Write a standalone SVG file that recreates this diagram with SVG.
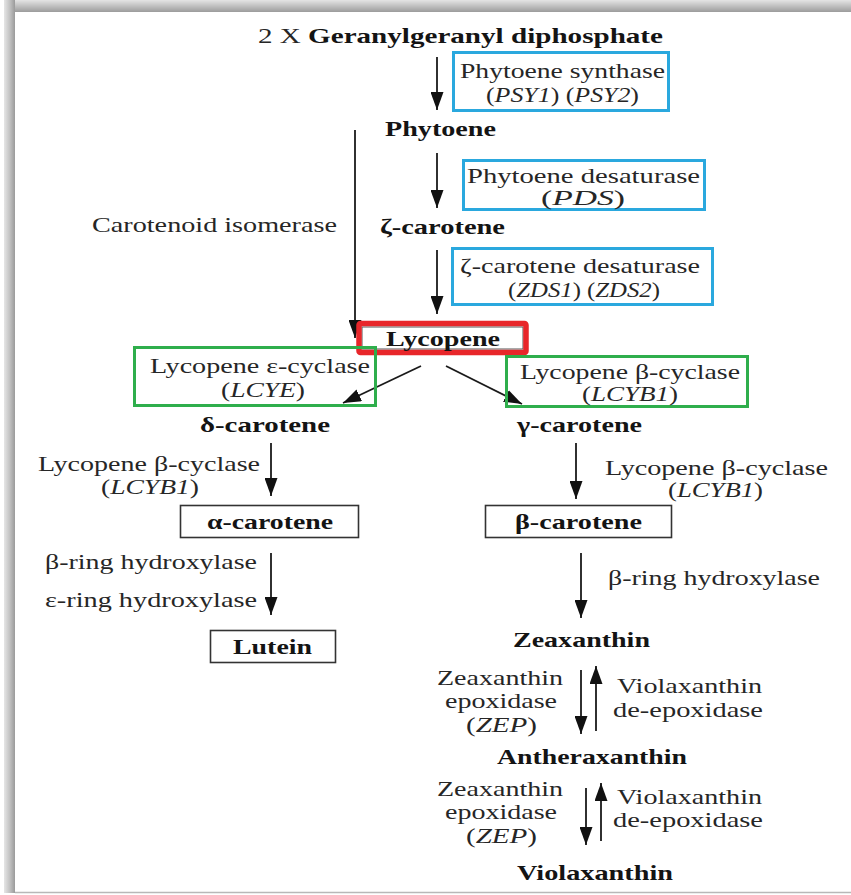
<svg xmlns="http://www.w3.org/2000/svg" width="851" height="895" viewBox="0 0 851 895">
  <defs>
    <linearGradient id="frameTop" x1="0" y1="0" x2="0" y2="1">
      <stop offset="0" stop-color="#e4e4e4"/>
      <stop offset="1" stop-color="#9c9c9c"/>
    </linearGradient>
    <linearGradient id="frameLeft" x1="0" y1="0" x2="1" y2="0">
      <stop offset="0" stop-color="#e6e6e6"/>
      <stop offset="0.5" stop-color="#c4c4c4"/>
      <stop offset="1" stop-color="#9a9a9a"/>
    </linearGradient>
    <marker id="ah" viewBox="0 0 18 13" refX="18" refY="6.5" markerWidth="18" markerHeight="13" markerUnits="userSpaceOnUse" orient="auto">
      <path d="M0,0 L18,6.5 L0,13 z" fill="#111"/>
    </marker>
  </defs>
  <style>
    text { font-family: "Liberation Serif", "Times New Roman", serif; font-size: 21px; fill: #262626; }
    .b { font-weight: bold; fill: #141414; }
    .i { font-style: italic; }
    .enz { stroke: #2aa8de; stroke-width: 3; fill: none; }
    .cyc { stroke: #2fae4c; stroke-width: 3; fill: none; }
    .prod { stroke: #333; stroke-width: 1.6; fill: #fff; }
    .arr { stroke: #1a1a1a; stroke-width: 1.8; fill: none; marker-end: url(#ah); }
  </style>

  <!-- page and frame -->
  <rect x="0" y="0" width="851" height="895" fill="#fff"/>
  <rect x="4" y="0" width="847" height="12" fill="url(#frameTop)"/>
  <rect x="4" y="0" width="11" height="893" fill="url(#frameLeft)"/>
  <line x1="15" y1="892.5" x2="851" y2="892.5" stroke="#b8b8b8" stroke-width="1.5"/>

  <!-- connectors -->
  <g id="connectors">
    <line class="arr" x1="437" y1="57" x2="437" y2="110"/>
    <line class="arr" x1="437" y1="153" x2="437" y2="208"/>
    <line class="arr" x1="437" y1="250" x2="437" y2="314"/>
    <line class="arr" x1="355" y1="130" x2="355" y2="338"/>
    <line class="arr" x1="421" y1="366" x2="343" y2="403"/>
    <line class="arr" x1="446" y1="366" x2="522" y2="404"/>
    <line class="arr" x1="271" y1="443" x2="271" y2="496"/>
    <line class="arr" x1="271" y1="553" x2="271" y2="615"/>
    <line class="arr" x1="576" y1="443" x2="576" y2="499"/>
    <line class="arr" x1="581" y1="553" x2="581" y2="618"/>
    <line class="arr" x1="581" y1="670" x2="581" y2="734"/>
    <line class="arr" x1="596" y1="731" x2="596" y2="666"/>
    <line class="arr" x1="586" y1="788" x2="586" y2="845"/>
    <line class="arr" x1="601" y1="841" x2="601" y2="783"/>
  </g>

  <!-- metabolites -->
  <g id="ggpp">
    <text x="258" y="43" textLength="405" lengthAdjust="spacingAndGlyphs">2 X <tspan class="b">Geranylgeranyl diphosphate</tspan></text>
  </g>
  <g id="phytoene">
    <text class="b" x="385" y="136" textLength="111" lengthAdjust="spacingAndGlyphs">Phytoene</text>
  </g>
  <g id="zeta-carotene">
    <text class="b" x="380" y="234" textLength="125" lengthAdjust="spacingAndGlyphs">ζ-carotene</text>
  </g>
  <g id="lycopene">
    <rect x="362" y="327" width="161" height="22" fill="none" stroke="#555" stroke-width="1"/>
    <rect x="359" y="323.5" width="167" height="29" fill="none" stroke="#e8262a" stroke-width="5.5" rx="1.5"/>
    <text class="b" x="386" y="346" textLength="114" lengthAdjust="spacingAndGlyphs">Lycopene</text>
  </g>
  <g id="delta-carotene">
    <text class="b" x="200" y="432" textLength="130" lengthAdjust="spacingAndGlyphs">δ-carotene</text>
  </g>
  <g id="gamma-carotene">
    <text class="b" x="517" y="432" textLength="125" lengthAdjust="spacingAndGlyphs">γ-carotene</text>
  </g>
  <g id="alpha-carotene">
    <rect class="prod" x="180.5" y="505.5" width="178" height="32"/>
    <text class="b" x="207" y="529" textLength="126" lengthAdjust="spacingAndGlyphs">α-carotene</text>
  </g>
  <g id="lutein">
    <rect class="prod" x="210.5" y="630.5" width="125" height="32"/>
    <text class="b" x="233" y="654" textLength="79" lengthAdjust="spacingAndGlyphs">Lutein</text>
  </g>
  <g id="beta-carotene">
    <rect class="prod" x="485.5" y="505.5" width="186" height="32"/>
    <text class="b" x="515" y="529" textLength="127" lengthAdjust="spacingAndGlyphs">β-carotene</text>
  </g>
  <g id="zeaxanthin">
    <text class="b" x="513" y="647" textLength="137" lengthAdjust="spacingAndGlyphs">Zeaxanthin</text>
  </g>
  <g id="antheraxanthin">
    <text class="b" x="497" y="764" textLength="190" lengthAdjust="spacingAndGlyphs">Antheraxanthin</text>
  </g>
  <g id="violaxanthin">
    <text class="b" x="517" y="880" textLength="156" lengthAdjust="spacingAndGlyphs">Violaxanthin</text>
  </g>

  <!-- enzymes -->
  <g id="psy">
    <rect class="enz" x="453.5" y="52.5" width="215" height="58"/>
    <text x="460" y="78" textLength="205" lengthAdjust="spacingAndGlyphs">Phytoene synthase</text>
    <text x="486" y="102" textLength="153" lengthAdjust="spacingAndGlyphs">(<tspan class="i">PSY1</tspan>) (<tspan class="i">PSY2</tspan>)</text>
  </g>
  <g id="pds">
    <rect class="enz" x="463.5" y="160.5" width="241" height="49"/>
    <text x="467" y="183" textLength="233" lengthAdjust="spacingAndGlyphs">Phytoene desaturase</text>
    <text x="541" y="205" textLength="84" lengthAdjust="spacingAndGlyphs">(<tspan class="i">PDS</tspan>)</text>
  </g>
  <g id="crtiso">
    <text x="92" y="232" textLength="245" lengthAdjust="spacingAndGlyphs">Carotenoid isomerase</text>
  </g>
  <g id="zds">
    <rect class="enz" x="452.5" y="248.5" width="260" height="56"/>
    <text x="460" y="273" textLength="240" lengthAdjust="spacingAndGlyphs">ζ-carotene desaturase</text>
    <text x="508" y="297" textLength="152" lengthAdjust="spacingAndGlyphs">(<tspan class="i">ZDS1</tspan>) (<tspan class="i">ZDS2</tspan>)</text>
  </g>
  <g id="lcye">
    <rect class="cyc" x="134.5" y="347.5" width="241" height="58"/>
    <text x="150" y="373" textLength="220" lengthAdjust="spacingAndGlyphs">Lycopene ε-cyclase</text>
    <text x="221" y="397" textLength="84" lengthAdjust="spacingAndGlyphs">(<tspan class="i">LCYE</tspan>)</text>
  </g>
  <g id="lcyb-main">
    <rect class="cyc" x="506.5" y="356.5" width="241" height="50"/>
    <text x="520" y="379" textLength="220" lengthAdjust="spacingAndGlyphs">Lycopene β-cyclase</text>
    <text x="582" y="401" textLength="96" lengthAdjust="spacingAndGlyphs">(<tspan class="i">LCYB1</tspan>)</text>
  </g>
  <g id="lcyb-alpha">
    <text x="38" y="471" textLength="222" lengthAdjust="spacingAndGlyphs">Lycopene β-cyclase</text>
    <text x="101" y="494" textLength="98" lengthAdjust="spacingAndGlyphs">(<tspan class="i">LCYB1</tspan>)</text>
  </g>
  <g id="hydroxylases-alpha">
    <text x="45" y="569" textLength="212" lengthAdjust="spacingAndGlyphs">β-ring hydroxylase</text>
    <text x="45" y="607" textLength="212" lengthAdjust="spacingAndGlyphs">ε-ring hydroxylase</text>
  </g>
  <g id="lcyb-beta">
    <text x="605" y="475" textLength="223" lengthAdjust="spacingAndGlyphs">Lycopene β-cyclase</text>
    <text x="668" y="497" textLength="95" lengthAdjust="spacingAndGlyphs">(<tspan class="i">LCYB1</tspan>)</text>
  </g>
  <g id="hydroxylase-beta">
    <text x="608" y="585" textLength="212" lengthAdjust="spacingAndGlyphs">β-ring hydroxylase</text>
  </g>
  <g id="zep-1">
    <text x="437" y="685" textLength="126" lengthAdjust="spacingAndGlyphs">Zeaxanthin</text>
    <text x="445" y="708" textLength="112" lengthAdjust="spacingAndGlyphs">epoxidase</text>
    <text x="466" y="732" textLength="71" lengthAdjust="spacingAndGlyphs">(<tspan class="i">ZEP</tspan>)</text>
  </g>
  <g id="vde-1">
    <text x="617" y="693" textLength="145" lengthAdjust="spacingAndGlyphs">Violaxanthin</text>
    <text x="613" y="717" textLength="150" lengthAdjust="spacingAndGlyphs">de-epoxidase</text>
  </g>
  <g id="zep-2">
    <text x="437" y="796" textLength="126" lengthAdjust="spacingAndGlyphs">Zeaxanthin</text>
    <text x="445" y="819" textLength="112" lengthAdjust="spacingAndGlyphs">epoxidase</text>
    <text x="466" y="843" textLength="71" lengthAdjust="spacingAndGlyphs">(<tspan class="i">ZEP</tspan>)</text>
  </g>
  <g id="vde-2">
    <text x="617" y="804" textLength="145" lengthAdjust="spacingAndGlyphs">Violaxanthin</text>
    <text x="613" y="827" textLength="150" lengthAdjust="spacingAndGlyphs">de-epoxidase</text>
  </g>
</svg>
